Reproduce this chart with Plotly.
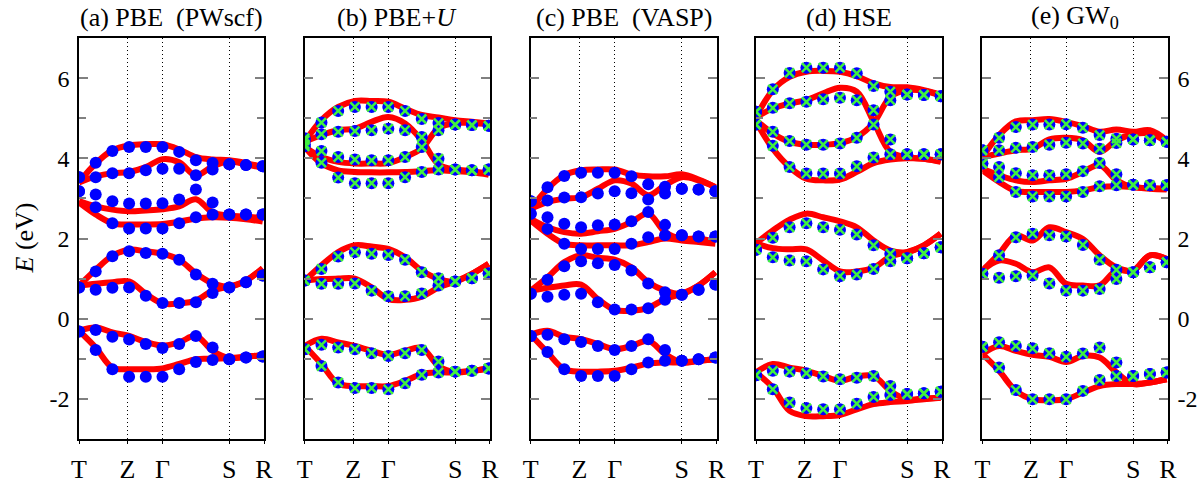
import plotly.graph_objects as go

# k-path: 12 sampled k-points, high-symmetry positions on the same index scale
k_index = list(range(12))
k_ticks = [0, 2.9, 5, 9, 11.08]
k_labels = ["T", "Z", "Γ", "S", "R"]

e_ticks = [-2, 0, 2, 4, 6]
e_labels = ["-2", "0", "2", "4", "6"]

titles = ["(a) PBE\u00a0 (PWscf)", "(b) PBE+<i>U</i>", "(c) PBE\u00a0 (VASP)",
          "(d) HSE", "(e) GW<sub>0</sub>"]

# ---- (a) PBE (PWscf) ----
a_dots = [
    [3.53, 3.89, 4.18, 4.28, 4.28, 4.28, 4.16, 3.95, 3.88, 3.85, 3.83, 3.80],
    [3.53, 3.53, 3.63, 3.63, 3.70, 3.74, 3.74, 3.58, 3.72, 3.85, 3.83, 3.80],
    [3.18, 3.10, 2.93, 2.87, 2.87, 2.88, 2.97, 3.22, 2.90, 2.60, 2.60, 2.60],
    [3.18, 2.78, 2.38, 2.25, 2.25, 2.25, 2.38, 2.53, 2.60, 2.60, 2.60, 2.60],
    [0.78, 1.18, 1.56, 1.68, 1.64, 1.62, 1.47, 1.10, 0.87, 0.78, 0.91, 1.08],
    [0.78, 0.72, 0.77, 0.78, 0.57, 0.39, 0.39, 0.41, 0.64, 0.78, 0.91, 1.08],
    [-0.32, -0.28, -0.45, -0.52, -0.63, -0.73, -0.63, -0.43, -0.72, -1.01, -0.97, -0.94],
    [-0.32, -0.78, -1.26, -1.45, -1.45, -1.45, -1.26, -1.08, -1.03, -1.01, -0.97, -0.94],
]
a_lines = [
    [3.40, 3.87, 4.20, 4.32, 4.35, 4.35, 4.22, 4.03, 3.97, 3.95, 3.88, 3.78],
    [3.40, 3.55, 3.63, 3.66, 3.78, 3.98, 3.90, 3.57, 3.80, 3.92, 3.85, 3.76],
    [2.93, 2.80, 2.72, 2.68, 2.70, 2.73, 2.80, 2.98, 2.65, 2.57, 2.55, 2.50],
    [2.90, 2.60, 2.38, 2.35, 2.35, 2.36, 2.42, 2.50, 2.53, 2.52, 2.48, 2.42],
    [0.82, 1.22, 1.57, 1.72, 1.68, 1.62, 1.47, 1.13, 0.88, 0.80, 0.95, 1.26],
    [0.82, 0.87, 0.91, 0.93, 0.62, 0.38, 0.38, 0.45, 0.70, 0.80, 0.95, 1.26],
    [-0.30, -0.22, -0.34, -0.43, -0.58, -0.67, -0.59, -0.43, -0.80, -0.98, -0.95, -0.91],
    [-0.30, -0.72, -1.22, -1.26, -1.26, -1.24, -1.13, -1.01, -1.00, -0.98, -0.95, -0.91],
]

# ---- (b) PBE+U ----
b_dots = [
    [4.50, 4.89, 5.18, 5.28, 5.28, 5.28, 5.18, 4.98, 4.88, 4.84, 4.83, 4.81],
    [4.45, 4.60, 4.66, 4.68, 4.70, 4.74, 4.70, 4.53, 4.70, 4.84, 4.83, 4.81],
    [4.35, 4.18, 4.03, 3.97, 3.95, 3.95, 4.03, 4.28, 3.99, 3.72, 3.70, 3.72],
    [4.30, 3.89, 3.52, 3.38, 3.38, 3.38, 3.53, 3.66, 3.72, 3.72, 3.70, 3.72],
    [0.95, 1.24, 1.55, 1.66, 1.62, 1.59, 1.47, 1.16, 1.01, 0.93, 1.01, 1.13],
    [0.95, 0.87, 0.87, 0.88, 0.70, 0.56, 0.56, 0.63, 0.83, 0.93, 1.01, 1.13],
    [-0.76, -0.65, -0.72, -0.76, -0.86, -0.93, -0.86, -0.78, -1.07, -1.32, -1.30, -1.24],
    [-0.76, -1.18, -1.59, -1.73, -1.73, -1.76, -1.61, -1.40, -1.34, -1.32, -1.30, -1.24],
]
b_lines = [
    [4.41, 4.95, 5.28, 5.43, 5.43, 5.41, 5.24, 5.08, 5.02, 4.95, 4.91, 4.87],
    [4.41, 4.58, 4.70, 4.74, 4.91, 5.03, 4.87, 4.45, 3.85, 3.72, 3.68, 3.62],
    [4.28, 4.03, 3.91, 3.87, 3.87, 3.88, 4.03, 4.25, 4.75, 4.88, 4.88, 4.85],
    [4.28, 3.87, 3.70, 3.66, 3.65, 3.65, 3.66, 3.68, 3.70, 3.68, 3.65, 3.59],
    [0.95, 1.33, 1.66, 1.83, 1.80, 1.74, 1.53, 1.20, 0.99, 0.93, 1.12, 1.37],
    [0.95, 0.99, 1.00, 1.00, 0.78, 0.49, 0.47, 0.55, 0.78, 0.93, 1.12, 1.37],
    [-0.68, -0.50, -0.59, -0.68, -0.80, -0.90, -0.80, -0.73, -1.18, -1.34, -1.30, -1.24],
    [-0.68, -1.13, -1.62, -1.68, -1.68, -1.68, -1.55, -1.38, -1.34, -1.34, -1.30, -1.24],
]

# ---- (c) PBE (VASP) ----
c_dots = [
    [2.93, 3.28, 3.56, 3.64, 3.64, 3.64, 3.55, 3.35, 3.29, 3.24, 3.22, 3.18],
    [2.93, 2.95, 3.02, 3.03, 3.12, 3.18, 3.13, 2.97, 3.12, 3.24, 3.22, 3.18],
    [2.62, 2.53, 2.37, 2.28, 2.33, 2.35, 2.43, 2.66, 2.34, 2.08, 2.05, 2.05],
    [2.62, 2.24, 1.87, 1.74, 1.74, 1.74, 1.87, 2.03, 2.08, 2.08, 2.05, 2.05],
    [0.62, 0.97, 1.31, 1.43, 1.38, 1.34, 1.20, 0.88, 0.66, 0.60, 0.72, 0.85],
    [0.62, 0.55, 0.60, 0.62, 0.41, 0.23, 0.23, 0.26, 0.47, 0.60, 0.72, 0.85],
    [-0.43, -0.40, -0.51, -0.58, -0.68, -0.78, -0.68, -0.51, -0.78, -1.05, -1.01, -0.97],
    [-0.43, -0.83, -1.26, -1.43, -1.43, -1.43, -1.26, -1.09, -1.05, -1.05, -1.01, -0.97],
]
c_lines = [
    [2.74, 3.24, 3.58, 3.70, 3.72, 3.72, 3.60, 3.55, 3.55, 3.60, 3.47, 3.28],
    [2.74, 2.91, 2.99, 3.03, 3.24, 3.45, 3.37, 3.08, 3.33, 3.53, 3.45, 3.28],
    [2.49, 2.28, 2.16, 2.12, 2.18, 2.24, 2.41, 2.62, 2.16, 1.99, 2.00, 1.91],
    [2.45, 2.12, 1.87, 1.83, 1.83, 1.83, 1.83, 1.91, 2.00, 1.95, 1.91, 1.87],
    [0.70, 1.03, 1.41, 1.58, 1.52, 1.47, 1.28, 0.91, 0.70, 0.62, 0.83, 1.16],
    [0.70, 0.77, 0.83, 0.85, 0.49, 0.22, 0.20, 0.27, 0.49, 0.62, 0.83, 1.16],
    [-0.40, -0.30, -0.45, -0.51, -0.63, -0.76, -0.68, -0.55, -0.88, -1.09, -1.05, -1.01],
    [-0.40, -0.84, -1.26, -1.32, -1.32, -1.30, -1.22, -1.12, -1.09, -1.09, -1.05, -1.01],
]

# ---- (d) HSE ----
d_dots = [
    [5.16, 5.72, 6.13, 6.26, 6.26, 6.26, 6.12, 5.80, 5.66, 5.59, 5.58, 5.55],
    [5.16, 5.26, 5.37, 5.41, 5.47, 5.51, 5.45, 5.20, 5.45, 5.59, 5.58, 5.55],
    [4.84, 4.66, 4.43, 4.34, 4.34, 4.37, 4.51, 4.84, 4.47, 4.10, 4.10, 4.10],
    [4.84, 4.31, 3.78, 3.62, 3.62, 3.62, 3.80, 4.02, 4.10, 4.10, 4.10, 4.10],
    [1.72, 2.02, 2.28, 2.38, 2.28, 2.22, 2.10, 1.83, 1.62, 1.51, 1.63, 1.78],
    [1.72, 1.53, 1.45, 1.43, 1.23, 1.06, 1.10, 1.24, 1.43, 1.51, 1.63, 1.78],
    [-1.41, -1.30, -1.32, -1.36, -1.44, -1.51, -1.47, -1.43, -1.68, -1.88, -1.86, -1.82],
    [-1.41, -1.76, -2.09, -2.23, -2.26, -2.26, -2.12, -1.95, -1.90, -1.88, -1.86, -1.82],
]
d_lines = [
    [5.03, 5.70, 6.03, 6.16, 6.18, 6.16, 6.05, 5.87, 5.78, 5.77, 5.70, 5.59],
    [5.03, 5.24, 5.37, 5.45, 5.62, 5.76, 5.66, 4.92, 4.16, 4.03, 3.99, 3.93],
    [4.95, 4.62, 4.41, 4.34, 4.34, 4.38, 4.53, 4.88, 5.53, 5.70, 5.68, 5.57],
    [4.91, 4.24, 3.78, 3.49, 3.45, 3.47, 3.66, 3.88, 3.97, 4.00, 3.99, 3.91],
    [1.88, 2.20, 2.47, 2.62, 2.53, 2.43, 2.28, 1.95, 1.70, 1.66, 1.83, 2.12],
    [1.88, 1.76, 1.73, 1.73, 1.45, 1.18, 1.18, 1.27, 1.55, 1.66, 1.83, 2.12],
    [-1.34, -1.13, -1.22, -1.30, -1.43, -1.55, -1.44, -1.43, -1.80, -2.01, -1.99, -1.97],
    [-1.34, -1.72, -2.30, -2.43, -2.43, -2.40, -2.26, -2.13, -2.08, -2.05, -2.01, -1.97],
]

# ---- (e) GW0 ----
e_dots = [
    [4.20, 4.51, 4.78, 4.84, 4.84, 4.85, 4.76, 4.58, 4.49, 4.47, 4.45, 4.41],
    [4.20, 4.20, 4.26, 4.28, 4.34, 4.39, 4.37, 4.24, 4.38, 4.47, 4.45, 4.41],
    [3.87, 3.78, 3.63, 3.58, 3.58, 3.60, 3.68, 3.88, 3.60, 3.34, 3.33, 3.33],
    [3.87, 3.53, 3.16, 3.05, 3.05, 3.05, 3.16, 3.30, 3.33, 3.34, 3.33, 3.33],
    [1.12, 1.58, 2.03, 2.12, 2.08, 2.05, 1.84, 1.47, 1.22, 1.16, 1.28, 1.41],
    [1.12, 1.02, 1.06, 1.08, 0.88, 0.70, 0.70, 0.74, 0.99, 1.16, 1.28, 1.41],
    [-0.70, -0.59, -0.68, -0.74, -0.86, -0.95, -0.87, -0.72, -1.09, -1.43, -1.38, -1.34],
    [-0.70, -1.22, -1.78, -2.01, -2.01, -2.01, -1.80, -1.53, -1.43, -1.43, -1.38, -1.34],
]
e_lines = [
    [4.03, 4.58, 4.92, 4.95, 4.98, 4.91, 4.80, 4.66, 4.72, 4.66, 4.70, 4.45],
    [4.03, 4.12, 4.20, 4.24, 4.47, 4.51, 4.45, 4.16, 4.45, 4.60, 4.62, 4.41],
    [3.74, 3.58, 3.45, 3.41, 3.45, 3.49, 3.66, 3.83, 3.45, 3.28, 3.26, 3.24],
    [3.70, 3.41, 3.18, 3.16, 3.16, 3.16, 3.20, 3.28, 3.30, 3.28, 3.24, 3.22],
    [1.20, 1.62, 2.08, 1.95, 2.28, 2.16, 1.99, 1.58, 1.28, 1.20, 1.58, 1.49],
    [1.20, 1.45, 1.37, 1.16, 1.28, 0.87, 0.83, 0.83, 1.20, 1.20, 1.58, 1.49],
    [-0.88, -0.68, -0.80, -0.90, -0.95, -1.08, -0.93, -0.97, -1.34, -1.63, -1.59, -1.51],
    [-0.88, -1.30, -1.80, -2.01, -2.03, -2.01, -1.84, -1.68, -1.63, -1.63, -1.59, -1.51],
]

panel_lines = [a_lines, b_lines, c_lines, d_lines, e_lines]
panel_dots = [a_dots, b_dots, c_dots, d_dots, e_dots]
panel_has_cross = [False, True, False, True, True]

domains = [(0.0, 0.1699), (0.2073, 0.3774), (0.4148, 0.5856),
           (0.6217, 0.7925), (0.8295, 1.0)]

SERIF = "Liberation Serif"

fig = go.Figure()

for p in range(5):
    ax = "" if p == 0 else str(p + 1)
    xa, ya = "x" + ax, "y" + ax
    for band in panel_lines[p]:
        fig.add_trace(go.Scatter(
            x=k_index, y=band, mode="lines", xaxis=xa, yaxis=ya,
            line=dict(color="#ff0000", width=6, shape="spline", smoothing=1.0),
            showlegend=False, hoverinfo="skip"))
    xs, ys = [], []
    for band in panel_dots[p]:
        xs += k_index
        ys += band
    fig.add_trace(go.Scatter(
        x=xs, y=ys, mode="markers", xaxis=xa, yaxis=ya,
        marker=dict(color="#0000ff", size=12, line=dict(width=0)),
        showlegend=False))
    if panel_has_cross[p]:
        fig.add_trace(go.Scatter(
            x=xs, y=ys, mode="markers", xaxis=xa, yaxis=ya,
            marker=dict(symbol="x-thin", size=9,
                        line=dict(color="#40f040", width=2.5)),
            showlegend=False))

    xaxis = dict(
        domain=list(domains[p]), range=[0, 11.08], anchor=ya, automargin=False,
        tickmode="array", tickvals=k_ticks, ticktext=k_labels,
        ticks="outside", ticklen=3, tickcolor="black", tickwidth=1,
        tickfont=dict(family=SERIF, size=26, color="black"),
        ticklabelstandoff=3,
        showgrid=True, gridcolor="black", gridwidth=1, griddash="1px,3px",
        showline=True, linecolor="black", linewidth=1.5, mirror=True,
        zeroline=False, fixedrange=True)
    yaxis = dict(
        range=[-3, 7], anchor=xa, automargin=False,
        tickmode="array", tickvals=e_ticks, ticktext=e_labels,
        ticks="inside", ticklen=9, tickcolor="#808080", tickwidth=1.5,
        minor=dict(dtick=1, tick0=0, ticks="inside", ticklen=7,
                   tickcolor="#808080", tickwidth=1.5),
        showgrid=False, zeroline=False,
        showline=True, linecolor="black", linewidth=1.5, mirror="allticks",
        tickfont=dict(family=SERIF, size=24, color="black"),
        ticklabelstandoff=3, fixedrange=True,
        showticklabels=(p in (0, 4)), side="right" if p == 4 else "left")
    fig.layout["xaxis" + ax] = xaxis
    fig.layout["yaxis" + ax] = yaxis

    fig.add_annotation(
        text=titles[p], xref="paper", yref="paper",
        x=(domains[p][0] + domains[p][1]) / 2, y=1 + 21 / 401,
        xanchor="center", yanchor="middle", showarrow=False,
        font=dict(family=SERIF, size=26, color="black"))

fig.add_annotation(
    text="<i>E</i> (eV)", xref="paper", yref="paper",
    x=-55 / 1089, y=0.5, textangle=-90, xanchor="center", yanchor="middle",
    showarrow=False, font=dict(family=SERIF, size=26, color="black"))

fig.update_layout(
    width=1201, height=487,
    margin=dict(l=79, r=33, t=38, b=48),
    paper_bgcolor="white", plot_bgcolor="white",
    showlegend=False)

# drop the default page margin so the figure fills the window exactly
fig.write_html("out.html", config={"displayModeBar": False},
               post_script="document.body.style.margin='0';"
                           "document.body.style.overflow='hidden';")
